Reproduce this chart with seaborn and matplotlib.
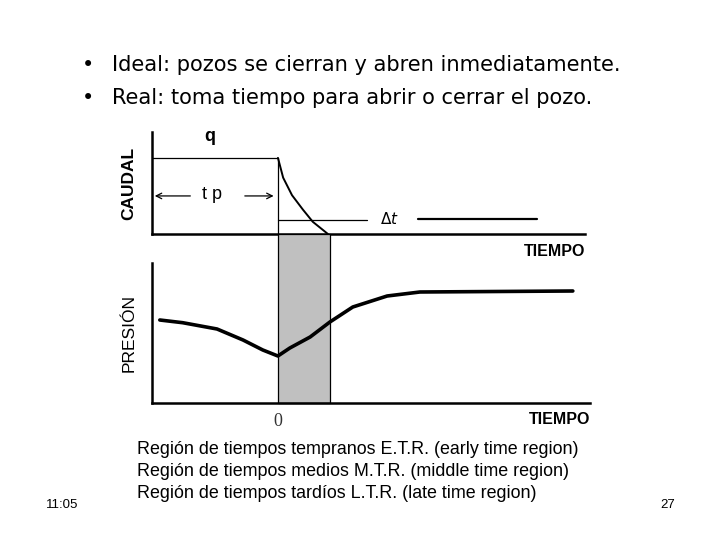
import seaborn as sns
import matplotlib.pyplot as plt

# --- datos leídos del esquema ---
# caudal (tiempo relativo al cierre, caudal normalizado)
t_caudal = [-2.42, 0.0]
q_caudal = [1.0, 1.0]
t_decl = [0.0, 0.10, 0.27, 0.48, 0.67, 0.87, 0.96]
q_decl = [1.0, 0.74, 0.51, 0.32, 0.16, 0.05, 0.0]
t_cero = [2.69, 4.98]
q_cero = [0.2, 0.2]

# presión
t_pres = [-2.27, -1.83, -1.17, -0.67, -0.29, 0.0, 0.23, 0.62, 1.0, 1.44, 2.10, 2.73, 5.67]
p_pres = [8.3, 8.03, 7.4, 6.3, 5.3, 4.7, 5.5, 6.6, 8.1, 9.6, 10.7, 11.1, 11.2]

tp_nivel = 0.5
dt_nivel = 0.18
dt_fin = 1.71
banda = (0.0, 1.0)

titulos = ["Ideal: pozos se cierran y abren inmediatamente.",
           "Real: toma tiempo para abrir o cerrar el pozo."]
regiones = ["Región de tiempos tempranos E.T.R. (early time region)",
            "Región de tiempos medios M.T.R. (middle time region)",
            "Región de tiempos tardíos L.T.R. (late time region)"]

sns.set_style("white")
plt.rcParams['font.family'] = ['DejaVu Sans']
plt.rcParams['text.color'] = 'black'
plt.rcParams['axes.labelcolor'] = 'black'
plt.rcParams['lines.solid_joinstyle'] = 'round'
plt.rcParams['lines.solid_capstyle'] = 'round'

fig = plt.figure(figsize=(7.2, 5.4), dpi=100)

# --- gráfico de caudal ---
ax1 = fig.add_axes([152/720, 1-234/540, (585-152)/720, (234-132)/540])
sns.lineplot(x=t_caudal, y=q_caudal, ax=ax1, color="black", lw=0.9)
sns.lineplot(x=t_decl, y=q_decl, ax=ax1, color="black", lw=1.4)
sns.lineplot(x=t_cero, y=q_cero, ax=ax1, color="black", lw=1.6)
ax1.plot([0, 0], [0, 1.0], color="black", lw=0.9)
ax1.plot([0, dt_fin], [dt_nivel, dt_nivel], color="black", lw=0.9)
ax1.annotate("", xy=(-2.42, tp_nivel), xytext=(-1.63, tp_nivel),
             arrowprops=dict(arrowstyle="->", lw=0.9, color="black"))
ax1.annotate("", xy=(-0.03, tp_nivel), xytext=(-0.69, tp_nivel),
             arrowprops=dict(arrowstyle="->", lw=0.9, color="black"))
ax1.text(-1.27, tp_nivel + 0.02, "t p", ha="center", va="center", fontsize=13,
         family="Liberation Sans")
ax1.text(-1.31, 1.28, "q", ha="center", va="center", fontsize=13, fontweight="bold",
         family="Liberation Sans")
ax1.text(2.15, dt_nivel + 0.02, r"$\Delta t$", ha="center", va="center", fontsize=11)
ax1.set_xlim(-2.42, 5.9)
ax1.set_ylim(0, 1.34)
ax1.set_xticks([])
ax1.set_yticks([])
sns.despine(ax=ax1)
for s in ["left", "bottom"]:
    ax1.spines[s].set_linewidth(1.8)
    ax1.spines[s].set_color("black")
ax1.set_ylabel("CAUDAL", fontsize=12.5, fontweight="bold", labelpad=11,
               family="Liberation Sans")

# --- gráfico de presión ---
ax2 = fig.add_axes([152/720, 1-403/540, (590-152)/720, (403-263)/540])
ax2.axvspan(banda[0], banda[1], ymin=0, ymax=(403-234)/140,
            facecolor="#c0c0c0", edgecolor="black", lw=0.9, clip_on=False, zorder=0)
sns.lineplot(x=t_pres, y=p_pres, ax=ax2, color="black", lw=2.6)
ax2.set_xlim(-2.42, 6.0)
ax2.set_ylim(0, 14)
ax2.set_xticks([])
ax2.set_yticks([])
sns.despine(ax=ax2)
for s in ["left", "bottom"]:
    ax2.spines[s].set_linewidth(1.8)
    ax2.spines[s].set_color("black")
ax2.set_ylabel("PRESIÓN", fontsize=12.5, labelpad=11, family="Liberation Sans")
ax2.text(0, -1.0, "0", ha="center", va="top", fontsize=13, family="Liberation Serif",
         color="#333333")

fig.text(555/720, 1-251/540, "TIEMPO", ha="center", va="center", fontsize=11.5,
         fontweight="bold", family="Liberation Sans")
fig.text(560/720, 1-419/540, "TIEMPO", ha="center", va="center", fontsize=11.5,
         fontweight="bold", family="Liberation Sans")

# --- textos de la diapositiva ---
for i, linea in enumerate(titulos):
    y = 1 - (65 + 33*i)/540
    fig.text(88/720, y, "•", ha="center", va="center", fontsize=15)
    fig.text(112/720, y, linea, ha="left", va="center", fontsize=15.1)

for i, linea in enumerate(regiones):
    fig.text(137/720, 1 - (449 + 22.5*i)/540, linea, ha="left", va="center",
             fontsize=12.9, family="Liberation Sans")

fig.text(62/720, 1-505/540, "11:05", ha="center", va="center", fontsize=9.5,
         family="Liberation Sans")
fig.text(668/720, 1-505/540, "27", ha="center", va="center", fontsize=9.5,
         family="Liberation Sans")

fig.savefig("out.png", dpi=100)
